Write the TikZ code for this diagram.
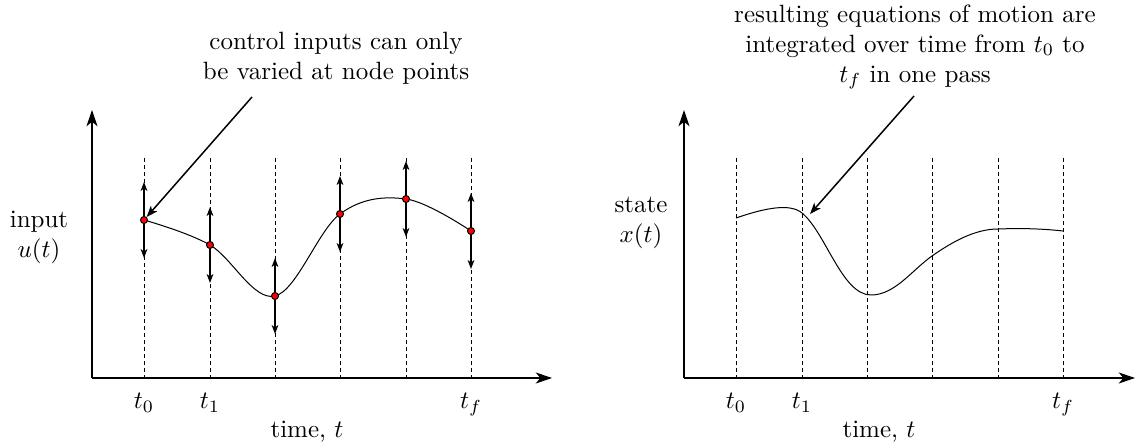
\documentclass[tikz,border=0pt]{standalone}
\usetikzlibrary{arrows.meta}
\begin{document}
\begin{tikzpicture}[
    x=0.4pt, y=-0.4pt,
    axis/.style={-{Stealth[length=6.5pt, width=4.4pt, inset=1.8pt]}, thick},
    guide/.style={thin, dash pattern=on 1.6pt off 1.2pt},
    knot/.style={circle, draw, thin, fill=red, inner sep=0pt, minimum size=2.8pt},
    vary/.style={{Stealth[length=3.6pt, width=2.7pt, inset=1pt]}-{Stealth[length=3.6pt, width=2.7pt, inset=1pt]}, semithick},
    callout/.style={-{Stealth[length=4.5pt, width=3.4pt, inset=1.2pt]}, semithick},
    note/.style={align=center}
]
\useasboundingbox (0,0) rectangle (1137,444);

% Input panel
\coordinate (uo) at (92,378);
\coordinate (uy) at (92,110);
\coordinate (ux) at (552,378);
\foreach \x in {144,210,275,340,406,471}
    \draw[guide] (\x,158) -- (\x,378);
\draw[axis] (uo) -- (uy);
\draw[axis] (uo) -- (ux);

\coordinate (k0) at (144,220);
\coordinate (k1) at (210,245);
\coordinate (k2) at (275,296);
\coordinate (k3) at (340,214);
\coordinate (k4) at (406,199);
\coordinate (k5) at (471,231);
\draw[thin] plot[smooth, tension=0.6] coordinates {(k0) (k1) (k2) (k3) (k4) (k5)};
\foreach \k in {0,...,5}
    \draw[vary] ([yshift=-15.2pt]k\k) -- ([yshift=15.2pt]k\k);
\foreach \k in {0,...,5}
    \node[knot] (p\k) at (k\k) {};

\node[note] (uin) at (39,237) {input\\$u(t)$};
\node[anchor=base] (ut0) at (144,409) {$t_0$};
\node[anchor=base] (ut1) at (210,409) {$t_1$};
\node[anchor=base] (utf) at (471,409) {$t_f$};
\node[anchor=base] (utime) at (307,437) {time, $t$};

\node[note] (unote) at (336,58) {control inputs can only\\be varied at node points};
\coordinate (ustart) at (252,97);
\draw[callout] (ustart) -- (p0);

% State panel
\coordinate (xo) at (684,378);
\coordinate (xy) at (684,110);
\coordinate (xx) at (1135,378);
\foreach \x in {736,802,867,932,998,1063}
    \draw[guide] (\x,158) -- (\x,378);
\draw[axis] (xo) -- (xy);
\draw[axis] (xo) -- (xx);

\draw[thin] (736,218) .. controls (765,208) and (790,203) .. (802,213)
    .. controls (826,233) and (842,295) .. (871,295)
    .. controls (895,295) and (912,270) .. (932,256)
    .. controls (952,242) and (975,229) .. (998,229)
    .. controls (1025,228) and (1045,229) .. (1063,231);

\node[note] (xin) at (641,223) {state\\$x(t)$};
\node[anchor=base] (xt0) at (736,409) {$t_0$};
\node[anchor=base] (xt1) at (802,409) {$t_1$};
\node[anchor=base] (xtf) at (1063,409) {$t_f$};
\node[anchor=base] (xtime) at (879,437) {time, $t$};

\node[note] (xnote) at (915,47) {resulting equations of motion are\\integrated over time from $t_0$ to\\$t_f$ in one pass};
\coordinate (xstart) at (914,96);
\coordinate (xend) at (810,214);
\draw[callout] (xstart) -- (xend);

\end{tikzpicture}
\end{document}
